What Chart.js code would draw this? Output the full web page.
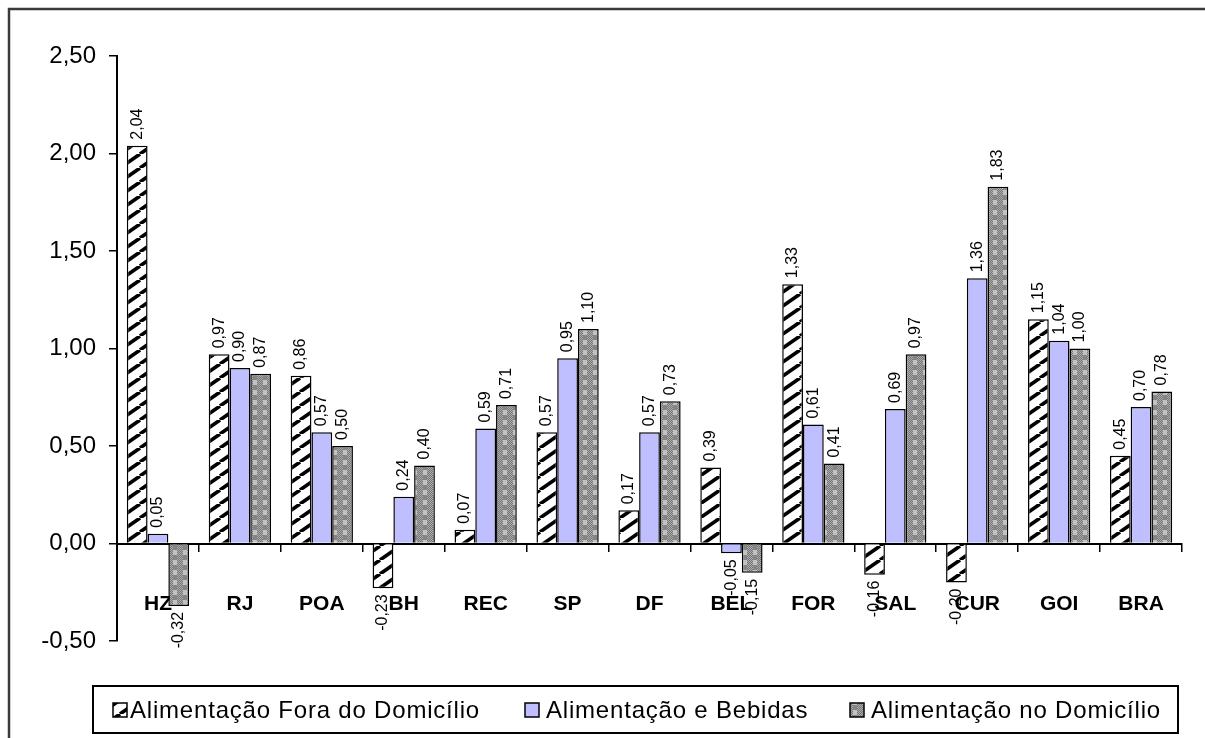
<!DOCTYPE html>
<html>
<head>
<meta charset="utf-8">
<script src="https://cdn.jsdelivr.net/npm/chart.js@4.4.1/dist/chart.umd.min.js"></script>
<style>
html, body { margin: 0; padding: 0; background: #fff; overflow: hidden; }
canvas { display: block; }
</style>
</head>
<body>
<canvas id="myChart" width="1205" height="738"></canvas>
<script>
const cities = ['HZ', 'RJ', 'POA', 'BH', 'REC', 'SP', 'DF', 'BEL', 'FOR', 'SAL', 'CUR', 'GOI', 'BRA'];
const foraDomicilio = [2.04, 0.97, 0.86, -0.23, 0.07, 0.57, 0.17, 0.39, 1.33, -0.16, -0.20, 1.15, 0.45];
const alimBebidas = [0.05, 0.90, 0.57, 0.24, 0.59, 0.95, 0.57, -0.05, 0.61, 0.69, 1.36, 1.04, 0.70];
const noDomicilio = [-0.32, 0.87, 0.50, 0.40, 0.71, 1.10, 0.73, -0.15, 0.41, 0.97, 1.83, 1.00, 0.78];
const seriesNames = ['Alimentação Fora do Domicílio', 'Alimentação e Bebidas', 'Alimentação no Domicílio'];
const yTicks = [-0.5, 0, 0.5, 1, 1.5, 2, 2.5];

const FONT = '"Liberation Sans", Arial, sans-serif';
const fmt = v => v.toFixed(2).replace('.', ',');

// diagonal hatch ( / ) like the excel pattern
function makeHatch() {
  const c = document.createElement('canvas');
  c.width = 20; c.height = 14;
  const g = c.getContext('2d');
  g.fillStyle = '#fff';
  g.fillRect(0, 0, 20, 14);
  g.strokeStyle = '#000';
  g.lineWidth = 3.6;
  for (const o of [-20, 0, 20]) {
    g.beginPath();
    g.moveTo(o, 14);
    g.lineTo(o + 20, 0);
    g.stroke();
  }
  return g.createPattern(c, 'repeat');
}

// grey checkered fill
function makeChecker() {
  const c = document.createElement('canvas');
  c.width = 10; c.height = 10;
  const g = c.getContext('2d');
  for (let y = 0; y < 10; y++) {
    for (let x = 0; x < 10; x++) {
      g.fillStyle = (x + y) % 2 ? '#767676' : '#acacac';
      g.fillRect(x, y, 1, 1);
    }
  }
  g.fillStyle = '#c2c2c2';
  g.fillRect(3, 0, 4, 5);
  g.fillStyle = '#858585';
  g.fillRect(3, 5, 4, 5);
  return g.createPattern(c, 'repeat');
}

const hatch = makeHatch();
const checker = makeChecker();
const fills = [hatch, '#bfbfff', checker];

const valueLabels = {
  id: 'valueLabels',
  afterDatasetsDraw(chart) {
    const ctx = chart.ctx;
    ctx.save();
    ctx.font = '16px ' + FONT;
    ctx.fillStyle = '#000';
    ctx.textBaseline = 'middle';
    chart.data.datasets.forEach((ds, i) => {
      chart.getDatasetMeta(i).data.forEach((bar, j) => {
        const v = ds.data[j];
        ctx.save();
        ctx.translate(bar.x, bar.y + (v < 0 ? 6 : -6));
        ctx.rotate(-Math.PI / 2);
        ctx.textAlign = v < 0 ? 'right' : 'left';
        ctx.fillText(fmt(v), 0, 0);
        ctx.restore();
      });
    });
    ctx.restore();
  }
};

const frameLegend = {
  id: 'frameLegend',
  afterDraw(chart) {
    const ctx = chart.ctx;
    ctx.save();
    // outer frame: only top and left edges fall inside the picture
    ctx.strokeStyle = '#3a3a3a';
    ctx.lineWidth = 2.5;
    ctx.beginPath();
    ctx.moveTo(9, 760);
    ctx.lineTo(9, 9);
    ctx.lineTo(1205, 9);
    ctx.stroke();

    ctx.strokeStyle = '#000';
    ctx.lineWidth = 2;
    ctx.strokeRect(93, 686, 1085, 47);

    const boxX = [113, 525, 850];
    const textX = [130, 546, 871];
    ctx.font = '24px ' + FONT;
    ctx.letterSpacing = '0.8px';
    ctx.textBaseline = 'middle';
    ctx.textAlign = 'left';
    seriesNames.forEach((name, i) => {
      ctx.fillStyle = fills[i];
      ctx.fillRect(boxX[i], 703, 14, 14);
      ctx.lineWidth = 1.5;
      ctx.strokeRect(boxX[i], 703, 14, 14);
      ctx.fillStyle = '#000';
      ctx.fillText(name, textX[i], 711);
    });
    ctx.restore();
  }
};

const data = {
  labels: cities,
  datasets: [
    { label: seriesNames[0], data: foraDomicilio, backgroundColor: fills[0] },
    { label: seriesNames[1], data: alimBebidas, backgroundColor: fills[1] },
    { label: seriesNames[2], data: noDomicilio, backgroundColor: fills[2] }
  ].map(d => Object.assign(d, {
    borderColor: '#000',
    borderWidth: 1.5,
    categoryPercentage: 0.76,
    barPercentage: 1.0
  }))
};

const config = {
  type: 'bar',
  data: data,
  options: {
    responsive: false,
    animation: false,
    devicePixelRatio: 1,
    layout: { padding: { top: 56, left: 0, right: 5, bottom: 97 } },
    plugins: {
      legend: { display: false },
      tooltip: { enabled: false }
    },
    scales: {
      x: {
        position: { y: 0 },
        offset: true,
        grid: {
          display: true,
          drawOnChartArea: false,
          drawTicks: true,
          tickLength: 7,
          offset: true,
          color: '#000',
          lineWidth: 1.5
        },
        border: { display: true, color: '#000', width: 2 },
        ticks: {
          color: '#000',
          font: { family: FONT, size: 21, weight: 'bold' },
          padding: 41,
          maxRotation: 0,
          autoSkip: false
        }
      },
      y: {
        min: -0.5,
        max: 2.5,
        afterBuildTicks: s => { s.ticks = yTicks.map(v => ({ value: v })); },
        afterFit: s => { s.width = 117; },
        grid: {
          drawOnChartArea: false,
          drawTicks: true,
          tickLength: 8,
          color: '#000',
          lineWidth: 1.5
        },
        border: { display: true, color: '#000', width: 2 },
        ticks: {
          color: '#000',
          font: { family: FONT, size: 24 },
          padding: 13,
          callback: v => fmt(v)
        }
      }
    }
  },
  plugins: [valueLabels, frameLegend]
};

const myChart = new Chart(document.getElementById('myChart'), config);
</script>
</body>
</html>
